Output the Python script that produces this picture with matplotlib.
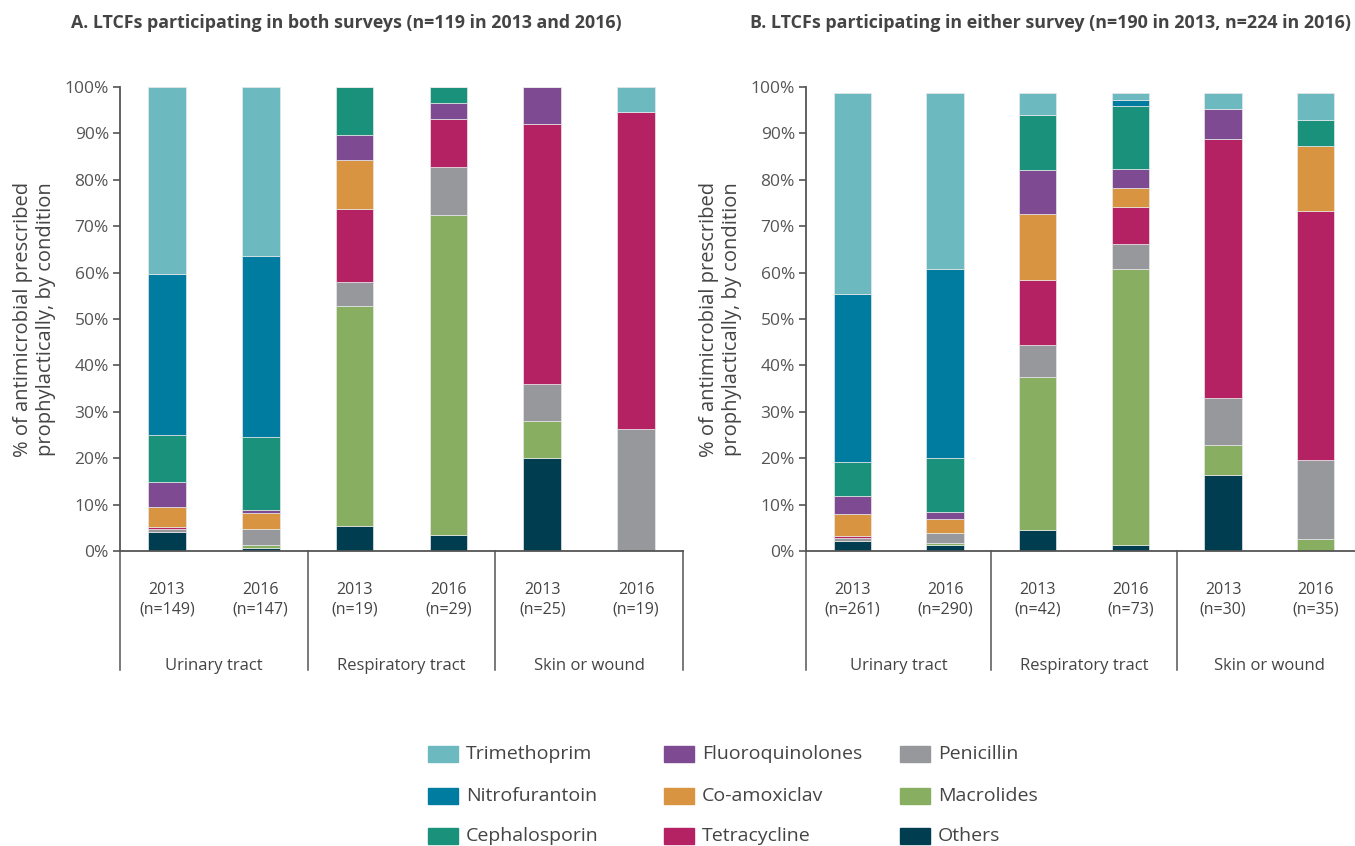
import matplotlib
matplotlib.use("Agg")
import matplotlib.pyplot as plt
from matplotlib.patches import Rectangle
from matplotlib.lines import Line2D
import numpy as np

plt.rcParams['font.family'] = ['Open Sans', 'DejaVu Sans']

drugs = ['Others', 'Macrolides', 'Penicillin', 'Tetracycline', 'Co-amoxiclav',
         'Fluoroquinolones', 'Cephalosporin', 'Nitrofurantoin', 'Trimethoprim']
colors = {
    'Trimethoprim': '#6cbac0',
    'Nitrofurantoin': '#007ca0',
    'Cephalosporin': '#1a917a',
    'Fluoroquinolones': '#7e4b93',
    'Co-amoxiclav': '#d89441',
    'Tetracycline': '#b52264',
    'Penicillin': '#97989c',
    'Macrolides': '#88af61',
    'Others': '#013d51',
}

conditions = ['Urinary tract', 'Respiratory tract', 'Skin or wound']
years = ['2013', '2016', '2013', '2016', '2013', '2016']
n_a = [149, 147, 19, 29, 25, 19]
n_b = [261, 290, 42, 73, 30, 35]

# panel A: % per bar (urinary 13, 16, respiratory 13, 16, skin 13, 16)
a_others = [4.0, 0.6, 5.3, 3.45, 20.0, 0.0]
a_macrolides = [0.0, 0.7, 47.4, 68.97, 8.0, 0.0]
a_penicillin = [0.7, 3.4, 5.3, 10.34, 8.0, 26.3]
a_tetracycline = [0.5, 0.0, 15.8, 10.34, 56.0, 68.4]
a_coamox = [4.2, 3.5, 10.5, 0.0, 0.0, 0.0]
a_fluoro = [5.4, 0.6, 5.3, 3.45, 8.0, 0.0]
a_cepha = [10.1, 15.7, 10.5, 3.45, 0.0, 0.0]
a_nitro = [34.9, 39.0, 0.0, 0.0, 0.0, 0.0]
a_trimeth = [40.2, 36.5, 0.0, 0.0, 0.0, 5.3]

# panel B
b_others = [2.15, 1.3, 4.5, 1.3, 16.3, 0.0]
b_macrolides = [0.0, 0.35, 33.0, 59.5, 6.6, 2.65]
b_penicillin = [0.75, 2.25, 6.9, 5.4, 10.0, 17.05]
b_tetracycline = [0.35, 0.0, 14.1, 8.0, 55.9, 53.5]
b_coamox = [4.7, 3.1, 14.1, 4.0, 0.0, 14.1]
b_fluoro = [3.8, 1.4, 9.5, 4.1, 6.4, 0.0]
b_cepha = [7.5, 11.6, 11.8, 13.6, 0.0, 5.5]
b_nitro = [36.2, 40.8, 0.0, 1.2, 0.0, 0.0]
b_trimeth = [43.2, 37.8, 4.7, 1.5, 3.4, 5.8]

panel_a = [a_others, a_macrolides, a_penicillin, a_tetracycline, a_coamox,
           a_fluoro, a_cepha, a_nitro, a_trimeth]
panel_b = [b_others, b_macrolides, b_penicillin, b_tetracycline, b_coamox,
           b_fluoro, b_cepha, b_nitro, b_trimeth]

W, H = 1355, 846
fig = plt.figure(figsize=(W / 100, H / 100), dpi=100)

axc = '#555555'
txtc = '#444444'


def draw_panel(rect, data, ns, title, title_x, title_size):
    ax = fig.add_axes(rect)
    x = np.arange(6)
    bottom = np.zeros(6)
    for drug, vals in zip(drugs, data):
        vals = np.array(vals)
        ax.bar(x, vals, bottom=bottom, width=0.4, color=colors[drug],
               edgecolor='#e8e8e8', linewidth=0.5)
        bottom += vals
    ax.set_xlim(-0.5, 5.5)
    ax.set_ylim(0, 100)
    ax.set_yticks(np.arange(0, 101, 10))
    ax.set_yticklabels([f'{v}%' for v in range(0, 101, 10)], fontsize=12.5, color=txtc)
    ax.set_xticks([])
    for s in ['top', 'right']:
        ax.spines[s].set_visible(False)
    for s in ['left', 'bottom']:
        ax.spines[s].set_color(axc)
        ax.spines[s].set_linewidth(1.3)
    ax.tick_params(axis='y', colors=axc, length=5, width=1.2, pad=3)
    ax.set_ylabel('% of antimicrobial prescribed\nprophylactically, by condition',
                  fontsize=14.5, color=txtc, labelpad=6)
    # group dividers below the axis
    for xd in [-0.5, 1.5, 3.5, 5.5]:
        ax.add_line(Line2D([xd, xd], [0, -25.7], color=axc, lw=1.1, clip_on=False))
    for i in range(6):
        ax.text(x[i], -10.5, f'{years[i]}\n(n={ns[i]})', ha='center', va='center',
                fontsize=11.5, color=txtc, linespacing=1.25)
    for j, c in enumerate(conditions):
        ax.text(2 * j + 0.5, -24.8, c, ha='center', va='center', fontsize=12, color=txtc)
    fig.text(title_x, 1 - 23 / H, title, ha='left', va='center', fontsize=title_size,
             fontweight='bold', color=txtc)
    return ax


draw_panel([120 / W, 1 - 551 / H, 563 / W, 464 / H], panel_a, n_a,
           'A. LTCFs participating in both surveys (n=119 in 2013 and 2016)', 71 / W, 12.8)
draw_panel([806 / W, 1 - 551 / H, 556 / W, 464 / H], panel_b, n_b,
           'B. LTCFs participating in either survey (n=190 in 2013, n=224 in 2016)', 750 / W, 12.9)

# legend, three columns
legend_cols = [['Trimethoprim', 'Nitrofurantoin', 'Cephalosporin'],
               ['Fluoroquinolones', 'Co-amoxiclav', 'Tetracycline'],
               ['Penicillin', 'Macrolides', 'Others']]
col_x = [428, 664, 900]
row_y = [754, 796, 836]
for cx, col in zip(col_x, legend_cols):
    for ry, name in zip(row_y, col):
        fig.add_artist(Rectangle((cx / W, 1 - (ry + 8) / H), 30 / W, 16 / H,
                                 transform=fig.transFigure, color=colors[name]))
        fig.text((cx + 38) / W, 1 - ry / H, name, ha='left', va='center',
                 fontsize=14, color=txtc)

fig.savefig('out.png', dpi=100)
